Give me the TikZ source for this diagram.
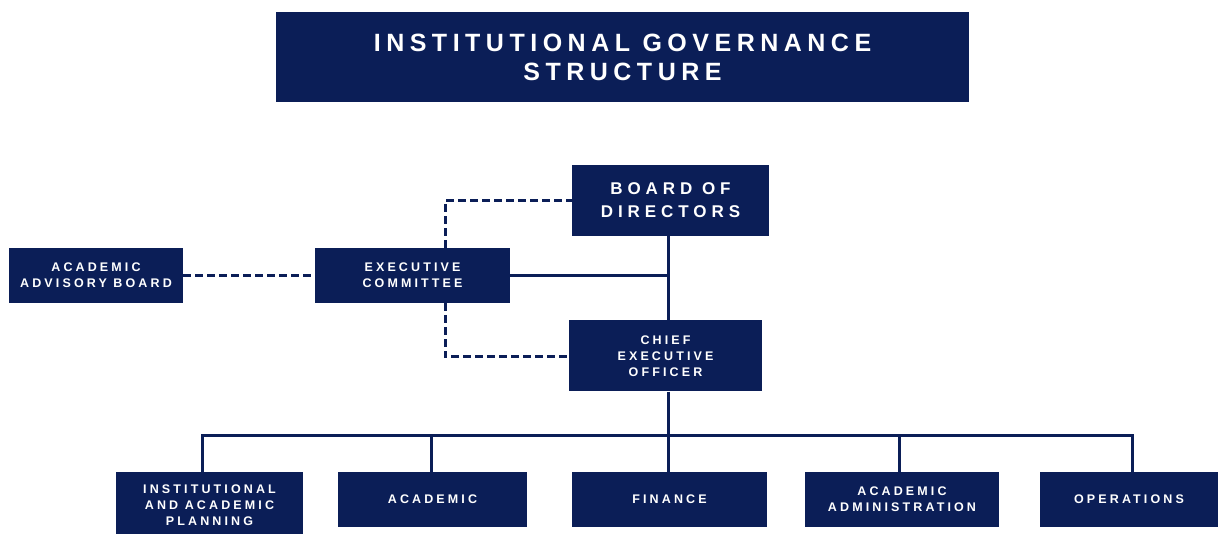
\documentclass[tikz,border=0pt]{standalone}
\usepackage{fontspec}
\setmainfont{Liberation Sans}
\definecolor{navy}{HTML}{0B1E57}
\begin{document}
\begin{tikzpicture}[x=1pt,y=-1pt,
  box/.style={fill=navy,draw=none,text=white,align=center,inner sep=0pt,font=\bfseries\addfontfeatures{LetterSpace=22}},
  small/.style={box,font=\fontsize{12.5}{16}\selectfont\bfseries\addfontfeatures{LetterSpace=25}},
  mid/.style={box,font=\fontsize{17}{23}\selectfont\bfseries\addfontfeatures{LetterSpace=29}},
  big/.style={box,font=\fontsize{25}{29}\selectfont\bfseries\addfontfeatures{LetterSpace=22}},
  link/.style={draw=navy,line width=3pt},
  dlink/.style={link,dash pattern=on 8pt off 4pt}]
\useasboundingbox (0,0) rectangle (1218,534);
\node[big,minimum width=693,minimum height=90] (title) at (622.5,57) {INSTITUTIONAL GOVERNANCE\\STRUCTURE};
\node[mid,minimum width=197,minimum height=71] (board) at (670.5,200.5) {BOARD OF\\DIRECTORS};
\node[small,minimum width=195,minimum height=55] (exec) at (412.5,275.5) {EXECUTIVE\\COMMITTEE};
\node[small,minimum width=174,minimum height=55] (aab) at (96,275.5) {ACADEMIC\\ADVISORY BOARD};
\node[small,minimum width=193,minimum height=71] (ceo) at (665.5,356) {CHIEF\\EXECUTIVE\\OFFICER};
\node[small,minimum width=187,minimum height=68] (iap) at (209.5,506) {};
\node[small] (iaptext) at (209.5,505.5) {INSTITUTIONAL\\AND ACADEMIC\\PLANNING};
\node[small,minimum width=189,minimum height=55] (acad) at (432.5,499.5) {ACADEMIC};
\node[small,minimum width=195,minimum height=55] (fin) at (669.5,499.5) {FINANCE};
\node[small,minimum width=194,minimum height=55] (aadm) at (902,499.5) {ACADEMIC\\ADMINISTRATION};
\node[small,minimum width=178,minimum height=55] (ops) at (1129,499.5) {OPERATIONS};
\coordinate (sx) at (668,0);
\coordinate (dtop) at (445,201);
\coordinate (dbot) at (445,357);
\coordinate (bus) at (0,435);
\coordinate (x1) at (202,0);
\coordinate (x2) at (431,0);
\coordinate (x4) at (899,0);
\coordinate (x5) at (1132,0);
\draw[link] (board.south -| sx) -- (ceo.north -| sx);
\draw[link] (exec.east) -- (exec.east -| sx);
\draw[dlink] (exec.north -| dtop) -- (dtop) -- (dtop -| board.west);
\draw[dlink] (exec.south -| dbot) -- (dbot) -- (dbot -| ceo.west);
\draw[dlink] (aab.east) -- (exec.west);
\draw[link] (ceo.south -| sx) -- (fin.north -| sx);
\draw[link] (iap.north -| x1) -- (bus -| x1) -- (bus -| x5) -- (ops.north -| x5);
\draw[link] (bus -| x2) -- (acad.north -| x2);
\draw[link] (bus -| x4) -- (aadm.north -| x4);
\end{tikzpicture}
\end{document}
